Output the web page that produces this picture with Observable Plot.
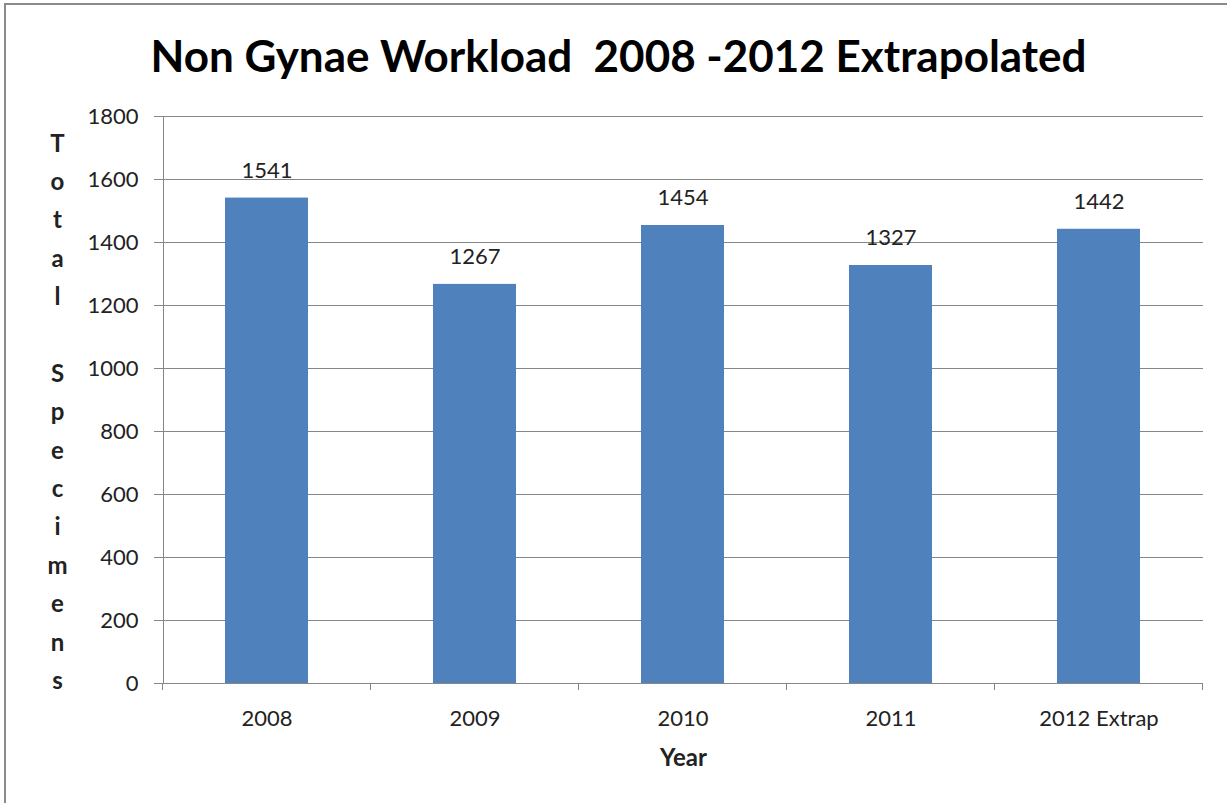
<!DOCTYPE html>
<html><head><meta charset="utf-8">
<script src="https://cdn.jsdelivr.net/npm/d3@7"></script>
<script src="https://cdn.jsdelivr.net/npm/@observablehq/plot@0.6"></script>
<style>
body{margin:0;background:#fff;overflow:hidden}
#wrap{position:relative;width:1227px;height:803px}
#border{position:absolute;left:4px;top:3px;width:1240px;height:820px;border-left:2px solid #8a8a8a;border-top:2px solid #8a8a8a;pointer-events:none}
svg text{white-space:pre}
</style></head><body><div id="wrap"><div id="border"></div></div>
<script>
const years = ["2008", "2009", "2010", "2011", "2012 Extrap"];
const totals = [1541, 1267, 1454, 1327, 1442];
const yTicks = [0, 200, 400, 600, 800, 1000, 1200, 1400, 1600, 1800];
const title = "Non Gynae Workload  2008 -2012 Extrapolated";
const xLabel = "Year";
const yLabel = "Total Specimens";

const data = years.map((y, i) => ({year: y, total: totals[i]}));
const gray = "#868686";
const ink = "#222";

function boundaryTicks(...args) {
  const s = args.find(a => a && typeof a.x === "function" && typeof a.y === "function");
  const x = s.x, y = s.y;
  const bw = x.bandwidth();
  const step = x.step ? x.step() : bw / 0.4;
  const off = (step - bw) / 2;
  const xs = years.map(c => x(c) - off);
  xs.push(x(years[years.length - 1]) + bw + off);
  const y0 = y(0);
  const g = d3.create("svg:g");
  g.selectAll("line").data(xs).join("line")
    .attr("x1", d => d).attr("x2", d => d)
    .attr("y1", y0).attr("y2", y0 + 7)
    .attr("stroke", gray);
  return g.node();
}

const chart = Plot.plot({
  width: 1227, height: 803,
  marginLeft: 163, marginRight: 24, marginTop: 116, marginBottom: 120,
  style: {fontFamily: "Lato", fontSize: "22px", color: ink, background: "transparent", overflow: "visible"},
  x: {domain: years, paddingInner: 0.6, paddingOuter: 0.3, label: null},
  y: {domain: [0, 1800], label: null},
  marks: [
    Plot.gridY(yTicks, {stroke: gray, strokeOpacity: 1}),
    Plot.axisY(yTicks, {tickSize: 9, tickPadding: 16, stroke: gray, strokeOpacity: 1, fontSize: 22, fill: ink, tickFormat: d => String(d), label: null}),
    Plot.barY(data, {x: "year", y: "total", fill: "#4F81BD"}),
    Plot.frame({anchor: "left", stroke: gray}),
    Plot.ruleY([0], {stroke: gray}),
    boundaryTicks,
    Plot.axisX({tickSize: 0, tickPadding: 27, fontSize: 22, fill: ink, label: null}),
    Plot.text(data, {x: "year", y: "total", text: d => String(d.total), lineAnchor: "bottom", dy: -20, fontSize: 22, fill: ink}),
    Plot.text([title], {text: d => d, frameAnchor: "top", lineAnchor: "bottom", dy: -45, dx: -65, fontSize: 44, fontWeight: "bold", fill: "#000"}),
    Plot.text([xLabel], {text: d => d, frameAnchor: "bottom", lineAnchor: "bottom", dy: 82, fontSize: 24, fontWeight: "bold", fill: ink}),
    Plot.text([yLabel.split("").join("\n")], {text: d => d, frameAnchor: "left", textAnchor: "middle", lineAnchor: "middle", lineHeight: 1.6, dx: -106, dy: 8, fontSize: 24, fontWeight: "bold", fill: ink})
  ]
});
document.getElementById("wrap").prepend(chart);
chart.style.position = "absolute";
chart.style.left = "0px";
chart.style.top = "0px";
</script>
</body></html>
